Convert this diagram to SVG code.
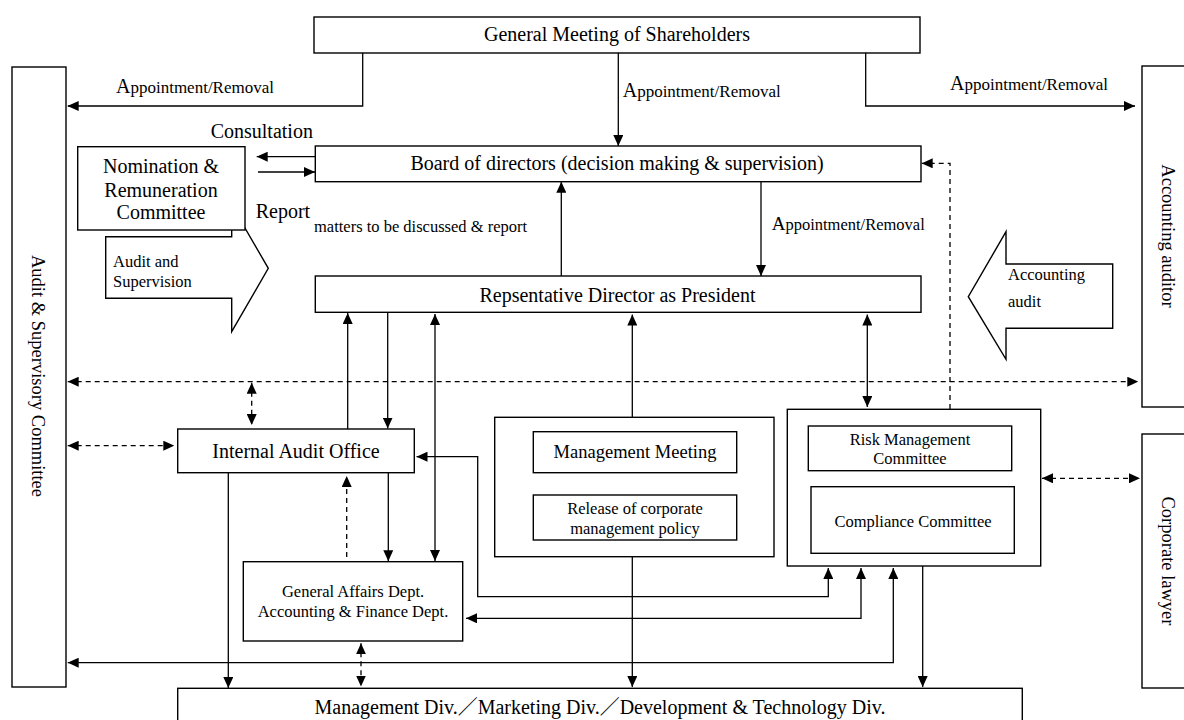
<svg xmlns="http://www.w3.org/2000/svg" width="1184" height="720" viewBox="0 0 1184 720">
<style>
.box{fill:#fff;stroke:#000;stroke-width:1.4}
.ln{fill:none;stroke:#000;stroke-width:1.3}
.dash{stroke-dasharray:5 4}
text{font-family:'Liberation Serif','Times New Roman',Times,serif;fill:#000}
.cjk{font-family:'Noto Sans CJK JP',sans-serif}
.t20{font-size:20px}
.t18{font-size:18.5px}
.t16{font-size:16.5px}
.ap{font-size:17px}
.apA{font-size:20px}
</style>
<defs>
<marker id="ah" viewBox="0 0 11 10" refX="11" refY="5" markerWidth="11" markerHeight="10" markerUnits="userSpaceOnUse" orient="auto-start-reverse">
<path d="M0,0 L11,5 L0,10 z" fill="#000"/>
</marker>
</defs>
<rect x="0" y="0" width="1184" height="720" fill="#fff"/>

<g id="audit-supervision-arrow">
<polygon class="box" points="105.7,236.7 231.7,236.7 231.7,205 268.3,268.3 231.7,331.7 231.7,298.3 105.7,298.3"/>
<text class="t16" x="113" y="267">Audit and</text>
<text class="t16" x="113" y="287">Supervision</text>
</g>

<g id="accounting-audit-arrow">
<polygon class="box" points="1112.7,264 1006,264 1006,231.7 968.3,296.7 1006,359.3 1006,328.3 1112.7,328.3"/>
<text class="t16" x="1008" y="280">Accounting</text>
<text class="t16" x="1008" y="307">audit</text>
</g>

<g id="general-meeting">
<rect class="box" x="314" y="17" width="606" height="36"/>
<text class="t20" x="617" y="41" text-anchor="middle">General Meeting of Shareholders</text>
</g>

<g id="audit-supervisory-committee">
<rect class="box" x="12" y="67" width="54" height="620"/>
<text class="t18" text-anchor="middle" transform="translate(38,376) rotate(90)" x="0" y="6">Audit &amp; Supervisory Committee</text>
</g>

<g id="accounting-auditor">
<rect class="box" x="1142" y="66" width="56" height="341"/>
<text class="t18" text-anchor="middle" transform="translate(1168,236) rotate(90)" x="0" y="6">Accounting auditor</text>
</g>

<g id="corporate-lawyer">
<rect class="box" x="1142" y="434" width="56" height="254"/>
<text class="t18" text-anchor="middle" transform="translate(1168,561) rotate(90)" x="0" y="6">Corporate lawyer</text>
</g>

<g id="nomination-committee">
<rect class="box" x="77.7" y="146.7" width="167.3" height="83.3"/>
<text class="t20" x="161" y="173" text-anchor="middle">Nomination  &amp;</text>
<text class="t20" x="161" y="196.5" text-anchor="middle">Remuneration</text>
<text class="t20" x="161" y="218.5" text-anchor="middle">Committee</text>
</g>

<g id="board">
<rect class="box" x="315.3" y="146" width="605.7" height="35.7"/>
<text class="t20" x="617" y="170" text-anchor="middle">Board of directors (decision making &amp; supervision)</text>
</g>

<g id="rep-director">
<rect class="box" x="315.3" y="276" width="605.7" height="36.3"/>
<text class="t20" x="617.5" y="301.5" text-anchor="middle">Repsentative Director as President</text>
</g>

<g id="internal-audit-office">
<rect class="box" x="177.7" y="429" width="236.6" height="43.7"/>
<text class="t20" x="296" y="458" text-anchor="middle">Internal Audit Office</text>
</g>

<g id="management-group">
<rect class="box" x="494.7" y="417.3" width="279.3" height="139.4"/>
</g>
<g id="management-meeting">
<rect class="box" x="533.3" y="431.7" width="203.4" height="41"/>
<text class="t18" x="635" y="458.3" text-anchor="middle">Management Meeting</text>
</g>
<g id="release-policy">
<rect class="box" x="533.3" y="495" width="203.4" height="45"/>
<text class="t16" x="635" y="513.5" text-anchor="middle">Release of corporate</text>
<text class="t16" x="635" y="533.5" text-anchor="middle">management  policy</text>
</g>

<g id="risk-compliance-group">
<rect class="box" x="787.3" y="409.3" width="253.4" height="156.7"/>
</g>
<g id="risk-management">
<rect class="box" x="808.3" y="426" width="203.4" height="44.7"/>
<text class="t16" x="910" y="445" text-anchor="middle">Risk Management</text>
<text class="t16" x="910" y="463.5" text-anchor="middle">Committee</text>
</g>
<g id="compliance">
<rect class="box" x="811" y="486.7" width="203.3" height="66.6"/>
<text class="t16" x="913" y="526.5" text-anchor="middle">Compliance Committee</text>
</g>

<g id="general-affairs">
<rect class="box" x="243.3" y="561.7" width="219.4" height="79.3"/>
<text class="t16" x="353" y="597.3" text-anchor="middle">General Affairs Dept.</text>
<text class="t16" x="353" y="616.7" text-anchor="middle">Accounting &amp; Finance Dept.</text>
</g>

<g id="divisions">
<rect class="box" x="177.7" y="688.3" width="844.6" height="40"/>
<text class="t20" x="600" y="713.5" text-anchor="middle">Management Div.<tspan class="cjk">／</tspan>Marketing Div.<tspan class="cjk">／</tspan>Development &amp; Technology Div.</text>
</g>

<g id="connectors">
<path class="ln" d="M362.7,52.7 V106 H67.7" marker-end="url(#ah)"/>
<path class="ln" d="M618.3,52.7 V146" marker-end="url(#ah)"/>
<path class="ln" d="M865.7,52.7 V106 H1135" marker-end="url(#ah)"/>
<path class="ln" d="M315,156.7 H256.7" marker-end="url(#ah)"/>
<path class="ln" d="M258,172 H315" marker-end="url(#ah)"/>
<path class="ln" d="M561.3,276 V181.7" marker-end="url(#ah)"/>
<path class="ln" d="M761,181.7 V276" marker-end="url(#ah)"/>
<path class="ln dash" d="M950,409 V163.3 H921.7" marker-end="url(#ah)"/>
<path class="ln dash" d="M67.7,381.7 H1138.3" marker-start="url(#ah)" marker-end="url(#ah)"/>
<path class="ln dash" d="M251.7,382.7 V425" marker-start="url(#ah)" marker-end="url(#ah)"/>
<path class="ln dash" d="M67.7,445.7 H174.3" marker-start="url(#ah)" marker-end="url(#ah)"/>
<path class="ln" d="M347.7,429 V313" marker-end="url(#ah)"/>
<path class="ln" d="M387.7,312.3 V428.5" marker-end="url(#ah)"/>
<path class="ln" d="M435,314 V561" marker-start="url(#ah)" marker-end="url(#ah)"/>
<path class="ln" d="M388.3,472.7 V561.2" marker-end="url(#ah)"/>
<path class="ln dash" d="M346.7,557 V476" marker-end="url(#ah)"/>
<path class="ln" d="M228.3,472.7 V688" marker-end="url(#ah)"/>
<path class="ln" d="M828.3,568 V596.7 H477.7 V456.7 H416.5" marker-start="url(#ah)" marker-end="url(#ah)"/>
<path class="ln" d="M861,568 V618.3 H466" marker-start="url(#ah)" marker-end="url(#ah)"/>
<path class="ln" d="M893.3,568 V662.7 H67.7" marker-start="url(#ah)" marker-end="url(#ah)"/>
<path class="ln" d="M922.7,566 V687" marker-end="url(#ah)"/>
<path class="ln" d="M632.3,556.7 V687" marker-end="url(#ah)"/>
<path class="ln" d="M632.3,417.3 V314.5" marker-end="url(#ah)"/>
<path class="ln" d="M867.3,314.5 V407" marker-start="url(#ah)" marker-end="url(#ah)"/>
<path class="ln dash" d="M1042,478.3 H1140" marker-start="url(#ah)" marker-end="url(#ah)"/>
<path class="ln dash" d="M361,643.3 V686.5" marker-start="url(#ah)" marker-end="url(#ah)"/>
</g>

<g id="labels">
<text class="ap" x="116" y="93"><tspan class="apA">A</tspan>ppointment/Removal</text>
<text class="ap" x="622.7" y="97"><tspan class="apA">A</tspan>ppointment/Removal</text>
<text class="ap" x="950" y="90"><tspan class="apA">A</tspan>ppointment/Removal</text>
<text class="ap" x="771.7" y="230" style="font-size:16.5px"><tspan style="font-size:19px">A</tspan>ppointment/Removal</text>
<text class="t20" x="210.7" y="138.3">Consultation</text>
<text class="t20" x="255.7" y="218">Report</text>
<text class="t16" x="314" y="231.7">matters to be discussed &amp; report</text>
</g>
</svg>
